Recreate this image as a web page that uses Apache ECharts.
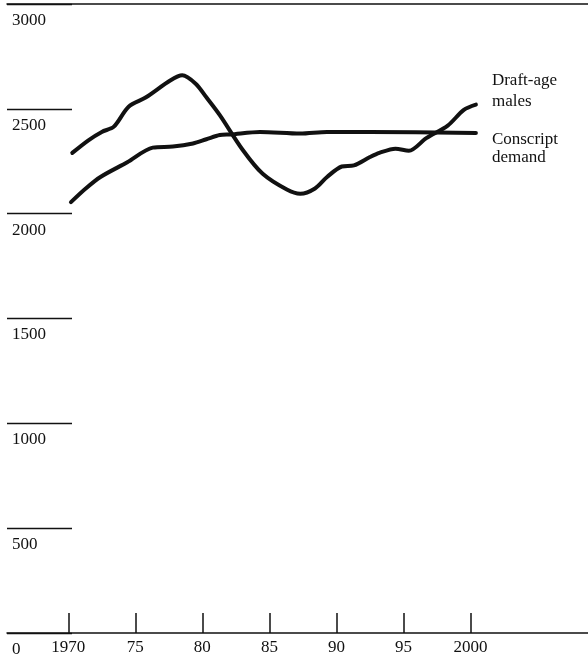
<!DOCTYPE html>
<html>
<head>
<meta charset="utf-8">
<script src="https://cdn.jsdelivr.net/npm/echarts@6/dist/echarts.min.js"></script>
<style>
  html, body { margin: 0; padding: 0; background: #fff; }
  #chart { width: 588px; height: 660px; }
</style>
</head>
<body>
<div id="chart"></div>
<script>
// values (thousands)
var maleYears = [1970.3, 1971.5, 1972.5, 1973.4, 1974.5, 1975.8, 1977.6, 1978.5, 1979.5, 1980.3,
  1981.3, 1983.0, 1984.5, 1986.3, 1987.3, 1988.4, 1989.3, 1990.4, 1991.3, 1992.5,
  1993.2, 1994.4, 1995.4, 1996.7, 1998.3, 1999.5, 2000.4];
var maleValues = [2290, 2350, 2390, 2415, 2510, 2555, 2635, 2660, 2620, 2555,
  2470, 2305, 2190, 2115, 2095, 2120, 2175, 2225, 2230, 2270,
  2290, 2310, 2300, 2360, 2420, 2495, 2520];

var demandYears = [1970.2, 1971.3, 1972.4, 1974.4, 1976.3, 1977.8, 1979.3, 1980.3, 1981.3, 1982.1,
  1984.3, 1987.3, 1989.3, 1992.5, 2000.4];
var demandValues = [2055, 2120, 2175, 2245, 2315, 2320, 2335, 2355, 2375, 2378,
  2390, 2382, 2390, 2390, 2385];

var yearTicks = [1970, 1975, 1980, 1985, 1990, 1995, 2000];
var yearLabels = ["1970", "75", "80", "85", "90", "95", "2000"];

var serif = "Liberation Serif";
var ink = "#111";

function pairs(xs, ys) {
  return xs.map(function (x, i) { return [x, ys[i]]; });
}

var chart = echarts.init(document.getElementById("chart"));

chart.setOption({
  backgroundColor: "#fff",
  animation: false,
  textStyle: { fontFamily: serif, color: ink },
  grid: { left: 7, right: 0, top: 4, bottom: 27 },
  xAxis: [
    {
      type: "value",
      min: 1965.43,
      max: 2008.76,
      axisLine: { lineStyle: { color: ink, width: 1.5 } },
      axisTick: {
        inside: true,
        length: 20,
        customValues: yearTicks,
        lineStyle: { color: ink, width: 1.5 }
      },
      axisLabel: {
        customValues: yearTicks,
        margin: 6,
        fontSize: 17,
        fontFamily: serif,
        color: ink,
        formatter: function (v) {
          var i = yearTicks.indexOf(Math.round(v));
          return i >= 0 ? yearLabels[i] : "";
        }
      },
      splitLine: { show: false }
    },
    {
      // top rule at 3000
      type: "value",
      position: "top",
      min: 1965.43,
      max: 2008.76,
      axisLine: { lineStyle: { color: ink, width: 1.5 } },
      axisTick: { show: false },
      axisLabel: { show: false },
      splitLine: { show: false }
    }
  ],
  yAxis: {
    type: "value",
    min: 0,
    max: 3000,
    interval: 500,
    axisLine: { show: false },
    axisTick: {
      inside: true,
      length: 65,
      lineStyle: { color: ink, width: 1.3 }
    },
    axisLabel: {
      inside: true,
      margin: 5,
      fontSize: 17,
      fontFamily: serif,
      color: ink,
      verticalAlign: "top",
      padding: [8, 0, 0, 0],
      formatter: function (v) { return String(v); }
    },
    splitLine: { show: false }
  },
  series: [
    {
      name: "Draft-age males",
      type: "line",
      xAxisIndex: 0,
      data: pairs(maleYears, maleValues),
      smooth: 0.3,
      symbol: "none",
      lineStyle: { color: ink, width: 4, cap: "round", join: "round" },
      endLabel: {
        show: true,
        formatter: "Draft-age\nmales",
        distance: 16,
        offset: [0, -14],
        fontSize: 17,
        lineHeight: 21,
        fontFamily: serif,
        color: ink
      }
    },
    {
      name: "Conscript demand",
      type: "line",
      xAxisIndex: 0,
      data: pairs(demandYears, demandValues),
      smooth: 0.3,
      symbol: "none",
      lineStyle: { color: ink, width: 4, cap: "round", join: "round" },
      endLabel: {
        show: true,
        formatter: "Conscript\ndemand",
        distance: 16,
        offset: [0, 16],
        fontSize: 17,
        lineHeight: 18,
        fontFamily: serif,
        color: ink
      }
    }
  ]
});
</script>
</body>
</html>
